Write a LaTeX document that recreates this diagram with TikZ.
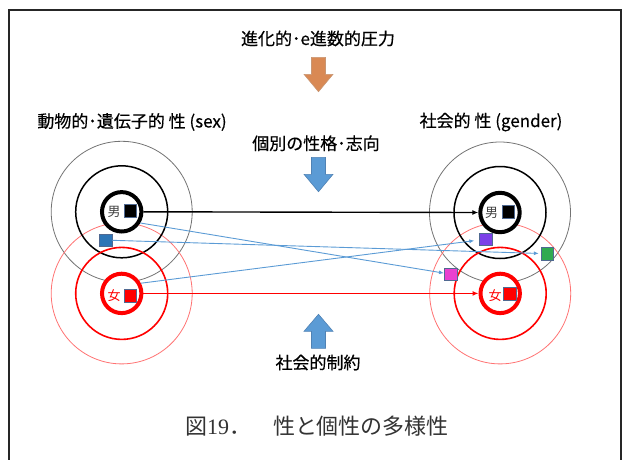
\documentclass[tikz,border=0pt]{standalone}
\usepackage{fontspec}
\newfontfamily\jp[FakeBold=0.4]{Noto Sans CJK JP}
\newfontfamily\jpcap{Noto Sans CJK JP}
\newfontfamily\numserif{Liberation Serif}
\usetikzlibrary{arrows.meta}
\definecolor{arrorange}{RGB}{217,137,84}
\definecolor{arrorangeline}{RGB}{200,150,115}
\definecolor{offblue}{RGB}{91,155,213}
\definecolor{offblueline}{RGB}{80,130,180}
\definecolor{sqline}{RGB}{80,105,145}
\definecolor{sqblue}{RGB}{46,117,182}
\definecolor{sqpurple}{RGB}{124,65,232}
\definecolor{sqgreen}{RGB}{48,170,80}
\definecolor{sqmagenta}{RGB}{233,64,208}
\definecolor{myred}{RGB}{255,0,0}
\tikzset{
  lbl/.style={font=\jp\fontsize{17}{17}\selectfont, inner sep=0pt},
  captiontext/.style={font=\jpcap\fontsize{22}{22}\selectfont, inner sep=0pt, text=black!80},
  sexlbl/.style={font=\jpcap\fontsize{13}{13}\selectfont, inner sep=0pt},
  blockarrow/.style={line width=0.6pt},
  outerblack/.style={circle, draw=black!55, line width=0.8pt, minimum size=141pt, inner sep=0pt},
  midblack/.style={circle, draw=black, line width=1.5pt, minimum size=92pt, inner sep=0pt},
  thickblack/.style={circle, draw=black, fill=white, line width=4pt, minimum size=39.4pt, inner sep=0pt},
  outerred/.style={circle, draw=myred!55, line width=0.8pt, minimum size=141pt, inner sep=0pt},
  midred/.style={circle, draw=myred, line width=1.6pt, minimum size=92pt, inner sep=0pt},
  thickred/.style={circle, draw=myred, fill=white, line width=4pt, minimum size=39.4pt, inner sep=0pt},
  sq/.style={rectangle, draw=sqline, line width=0.5pt, minimum size=12.5pt, inner sep=0pt},
  blkarr/.style={line width=1.4pt, -{Latex[length=6pt,width=5pt]}},
  redarr/.style={draw=myred, line width=1.8pt, -{Latex[length=6pt,width=5pt]}},
  bluearr/.style={draw=offblue, line width=0.9pt, -{Latex[length=5pt,width=4pt]}}
}
\begin{document}
\begin{tikzpicture}[x=1pt,y=-1pt]
\useasboundingbox (0,0) rectangle (625,459);
% frame
\draw[line width=2pt, black!85] (9,480) -- (9,10) -- (621,10) -- (621,480);

% texts
\node[lbl] (t1) at (318,38.5) {進化的･e進数的圧力};
\node[lbl] (t2) at (132,122) {動物的･遺伝子的 性 (sex)};
\node[lbl] (t3) at (491,122) {社会的 性 (gender)};
\node[lbl] (t4) at (316,143.3) {個別の性格･志向};
\node[lbl] (t5) at (318,362.5) {社会的制約};
\node[captiontext] (capt) at (317,426) {図{\numserif 19}．　性と個性の多様性};

% block arrows (shapes)
\filldraw[blockarrow, fill=arrorange, draw=arrorangeline]
  (311.5,57.3) -- (325.5,57.3) -- (325.5,74.3) -- (333,74.3) -- (318.5,91.7)
  -- (304,74.3) -- (311.5,74.3) -- cycle;
\filldraw[blockarrow, fill=offblue, draw=offblueline]
  (311.5,157.3) -- (325.5,157.3) -- (325.5,174.3) -- (333,174.3) -- (318.5,191.7)
  -- (304,174.3) -- (311.5,174.3) -- cycle;
\filldraw[blockarrow, fill=offblue, draw=offblueline]
  (311.5,348.3) -- (325.5,348.3) -- (325.5,331.3) -- (333,331.3) -- (318.5,314.3)
  -- (304,331.3) -- (311.5,331.3) -- cycle;

% outer circles
\node[outerblack] (lmo) at (121.7,211.8) {};
\node[outerblack] (rmo) at (500,212.5) {};
\node[outerred] (lfo) at (121.7,293.4) {};
\node[outerred] (rfo) at (500.2,293.4) {};
% middle circles
\node[midblack] (lmm) at (121.7,211.8) {};
\node[midblack] (rmm) at (500,212.5) {};
\node[midred] (lfm) at (121.7,293.4) {};
\node[midred] (rfm) at (500.2,293.4) {};
% thick circles
\node[thickblack] (lm) at (121.7,211.8) {};
\node[thickblack] (rm) at (500,212.5) {};
\node[thickred] (lf) at (121.7,293.4) {};
\node[thickred] (rf) at (500.2,293.4) {};

% labels and squares inside
\node[sexlbl, text=black!75] (lmt) at (114,212) {男};
\node[sq, fill=black] (lms) at (130.3,210.5) {};
\node[sexlbl, text=myred] (lft) at (114,295.5) {女};
\node[sq, fill=myred] (lfs) at (130.3,295.5) {};
\node[sexlbl, text=black!75] (rmt) at (491.7,213.3) {男};
\node[sq, fill=black] (rms) at (508,211.8) {};
\node[sexlbl, text=myred] (rft) at (495,295.5) {女};
\node[sq, fill=myred] (rfs) at (509.7,293.7) {};

% coloured squares
\node[sq, fill=sqblue] (sb) at (105.8,240.3) {};
\node[sq, fill=sqpurple] (sp) at (485.8,239.2) {};
\node[sq, fill=sqgreen] (sg) at (547.3,253.7) {};
\node[sq, fill=sqmagenta] (sm) at (450.5,274.2) {};

% connectors
\draw[blkarr] (lm.east) -- (rm.west);
\draw[redarr] (lf.east) -- (rf.west);
\draw[bluearr] (lm.-31) -- (sm);
\draw[bluearr, shorten >=2pt] (sb.east) -- (sg);
\draw[bluearr, shorten >=5pt] (lf.28) -- (sp);
\end{tikzpicture}
\end{document}
